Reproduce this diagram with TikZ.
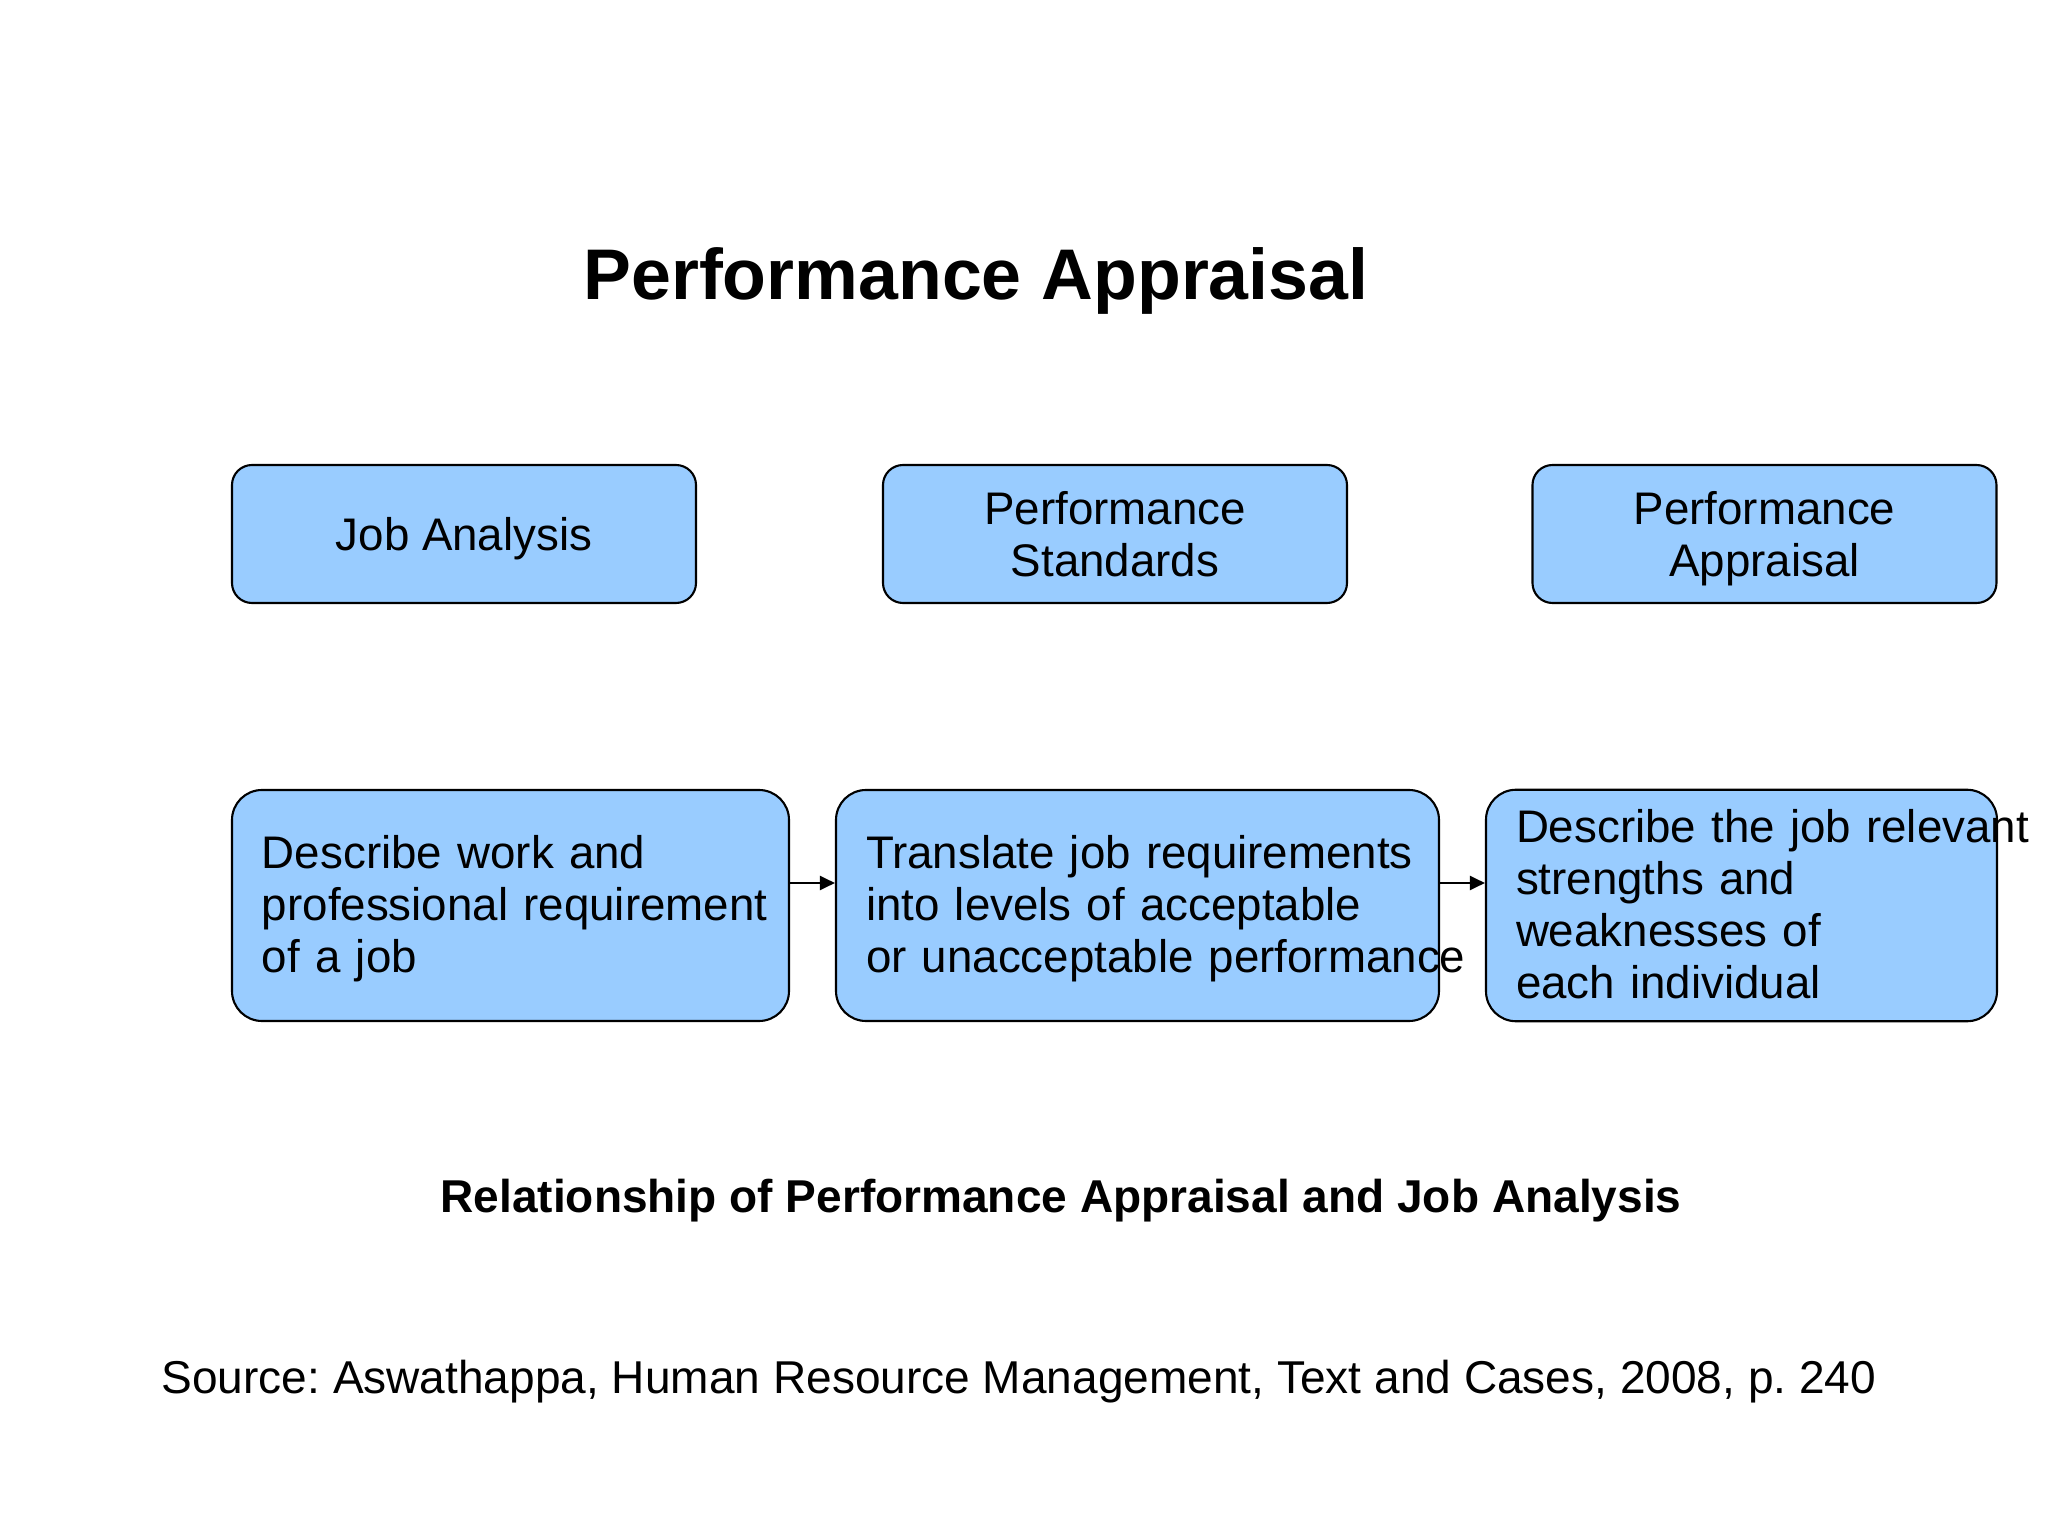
\documentclass[tikz,border=0pt]{standalone}
\usepackage{fontspec}
\setmainfont{Liberation Sans}
\usetikzlibrary{positioning,arrows.meta}
\definecolor{boxblue}{RGB}{153,204,255}
\frenchspacing

\begin{document}
\begin{tikzpicture}[
  stage/.style={draw,fill=boxblue,rounded corners=2mm,line width=0.6pt,minimum width=4.64cm,minimum height=1.38cm,align=center,text depth=0pt,font=\fontsize{13}{14.8}\selectfont},
  task/.style={draw,fill=boxblue,rounded corners=3mm,line width=0.6pt,minimum height=2.31cm,inner xsep=3mm,align=left,font=\fontsize{13}{14.8}\selectfont},
  link/.style={-{Triangle[length=1.5mm,width=1.4mm]},line width=0.6pt}]
\useasboundingbox (0,0) rectangle (20.48,-15.36);
\node[font=\bfseries\fontsize{20.4}{24}\selectfont] (title) at (9.76,-2.81) {Performance Appraisal};
% upper row
\foreach[count=\c] \x/\t in {4.64/Job Analysis,11.15/Performance\\Standards,17.645/Performance\\Appraisal}
	\node[stage] (s\c) at (\x,-5.34) {\t};
% lower row, the long lines run over the right edge
\foreach[count=\c] \x/\w/\t in {5.105/4.97/Describe work and\\professional requirement\\of a job,
	11.375/5.43/Translate job requirements\\into levels of acceptable\\or unacceptable performance,
	17.415/4.51/Describe the job relevant\\strengths and\\weaknesses of\\each individual}
	\node[task,text width=\w cm] (t\c) at (\x,-9.055) {\raisebox{-0.5mm}[\height][\depth]{\begin{tabular}{@{}l@{}}\t\end{tabular}}};
\foreach \a/\b in {t1/t2,t2/t3}
	\draw[link]([yshift=2.25mm]\a.east)--([yshift=2.25mm]\b.west);
\node[font=\bfseries\fontsize{13.1}{15}\selectfont] (caption) at (10.61,-12.01) {Relationship of Performance Appraisal and Job Analysis};
\node[font=\fontsize{13.1}{15}\selectfont] (source) at (10.19,-13.82) {Source: Aswathappa, Human Resource Management, Text and Cases, 2008, p. 240};
\end{tikzpicture}
\end{document}
